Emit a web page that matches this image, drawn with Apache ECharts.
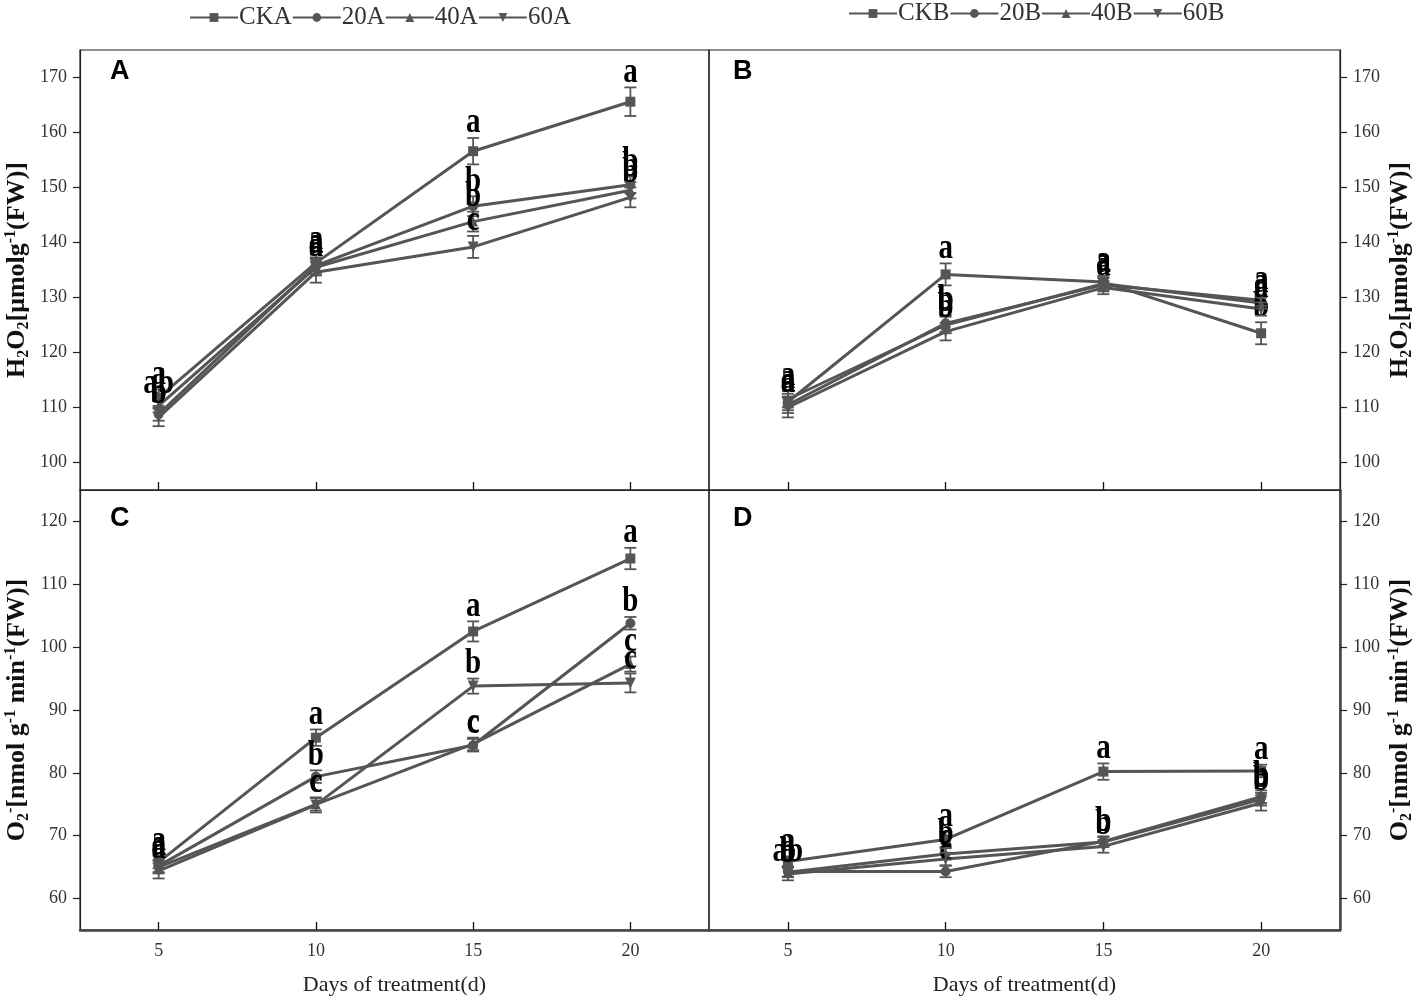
<!DOCTYPE html>
<html>
<head>
<meta charset="utf-8">
<title>H2O2 / O2- chart</title>
<script src="https://cdn.jsdelivr.net/npm/echarts@6/dist/echarts.min.js"></script>
<style>
    html, body { margin: 0; padding: 0; background: #fff; }
    #chart { width: 1417px; height: 997px; }
</style>
</head>
<body>
<div id="chart"></div>
<script>
// 数据 begin
const days = [5, 10, 15, 20];
const xTicks = [5, 10, 15, 20];
const h2o2Ticks = [100, 110, 120, 130, 140, 150, 160, 170];
const o2Ticks = [60, 70, 80, 90, 100, 110, 120];

const namesA = ['CKA', '20A', '40A', '60A'];
const namesB = ['CKB', '20B', '40B', '60B'];

// A: H2O2, A组
const h2o2CKA = [111.8, 136.3, 156.6, 165.6];
const h2o2A20 = [108.8, 135.8, 146.6, 150.5];
const h2o2A40 = [110.3, 135.5, 143.8, 149.5];
const h2o2A60 = [108.2, 134.6, 139.2, 148.2];
const h2o2CKAErr = [1.5, 1.5, 2.4, 2.6];
const h2o2A20Err = [1.2, 1.5, 1.8, 1.5];
const h2o2A40Err = [1.2, 1.5, 1.8, 1.5];
const h2o2A60Err = [1.6, 1.9, 2.0, 1.8];
const h2o2CKAMark = ['a', 'a', 'a', 'a'];
const h2o2A20Mark = ['b', 'a', 'b', 'b'];
const h2o2A40Mark = ['ab', 'a', 'b', 'b'];
const h2o2A60Mark = ['b', 'a', 'c', 'b'];

// B: H2O2, B组
const h2o2CKB = [111.0, 134.2, 132.8, 123.5];
const h2o2B20 = [110.5, 125.3, 132.3, 129.5];
const h2o2B40 = [111.5, 125.0, 132.5, 129.0];
const h2o2B60 = [110.0, 123.8, 131.8, 127.9];
const h2o2CKBErr = [1.5, 2.0, 1.2, 2.0];
const h2o2B20Err = [1.5, 1.5, 1.2, 1.0];
const h2o2B40Err = [1.5, 1.5, 1.2, 1.0];
const h2o2B60Err = [1.8, 1.6, 1.2, 1.2];
const h2o2CKBMark = ['a', 'a', 'a', 'b'];
const h2o2B20Mark = ['a', 'b', 'a', 'a'];
const h2o2B40Mark = ['a', 'b', 'a', 'a'];
const h2o2B60Mark = ['a', 'b', 'a', 'a'];

// C: O2-, A组
const o2CKA = [65.8, 85.6, 102.5, 114.1];
const o2A20 = [65.2, 79.4, 84.4, 103.8];
const o2A40 = [65.0, 75.0, 84.6, 97.3];
const o2A60 = [64.4, 74.9, 93.8, 94.3];
const o2CKAErr = [1.0, 1.3, 1.6, 1.7];
const o2A20Err = [1.0, 1.0, 1.0, 1.0];
const o2A40Err = [1.0, 1.0, 1.0, 1.2];
const o2A60Err = [1.2, 1.2, 1.2, 1.5];
const o2CKAMark = ['a', 'a', 'a', 'a'];
const o2A20Mark = ['a', 'b', 'c', 'b'];
const o2A40Mark = ['a', 'c', 'c', 'c'];
const o2A60Mark = ['a', 'c', 'b', 'c'];

// D: O2-, B组
const o2CKB = [65.9, 69.4, 80.2, 80.3];
const o2B20 = [64.3, 64.3, 69.1, 76.2];
const o2B40 = [64.2, 67.1, 69.0, 75.8];
const o2B60 = [63.9, 66.3, 68.3, 75.2];
const o2CKBErr = [0.8, 1.2, 1.3, 1.0];
const o2B20Err = [0.8, 0.9, 0.8, 1.0];
const o2B40Err = [0.8, 0.9, 0.8, 1.0];
const o2B60Err = [1.0, 1.0, 1.0, 1.2];
const o2CKBMark = ['a', 'a', 'a', 'a'];
const o2B20Mark = ['ab', 'c', 'b', 'b'];
const o2B40Mark = ['b', 'b', 'b', 'b'];
const o2B60Mark = ['b', 'c', 'b', 'b'];
// end

const LINE_COLOR = '#555555';
const SERIF = '"Liberation Serif", "Times New Roman", serif';
const symbols = ['rect', 'circle', 'triangle', 'path://M0,0L10,0L5,10Z'];

const panels = [
    { names: namesA, vals: [h2o2CKA, h2o2A20, h2o2A40, h2o2A60],
      errs: [h2o2CKAErr, h2o2A20Err, h2o2A40Err, h2o2A60Err],
      marks: [h2o2CKAMark, h2o2A20Mark, h2o2A40Mark, h2o2A60Mark] },
    { names: namesB, vals: [h2o2CKB, h2o2B20, h2o2B40, h2o2B60],
      errs: [h2o2CKBErr, h2o2B20Err, h2o2B40Err, h2o2B60Err],
      marks: [h2o2CKBMark, h2o2B20Mark, h2o2B40Mark, h2o2B60Mark] },
    { names: namesA, vals: [o2CKA, o2A20, o2A40, o2A60],
      errs: [o2CKAErr, o2A20Err, o2A40Err, o2A60Err],
      marks: [o2CKAMark, o2A20Mark, o2A40Mark, o2A60Mark] },
    { names: namesB, vals: [o2CKB, o2B20, o2B40, o2B60],
      errs: [o2CKBErr, o2B20Err, o2B40Err, o2B60Err],
      marks: [o2CKBMark, o2B20Mark, o2B40Mark, o2B60Mark] }
];

const grids = [
    { left: 80, top: 50, width: 629, height: 440 },
    { left: 709, top: 50, width: 631, height: 440 },
    { left: 80, top: 490, width: 629, height: 440 },
    { left: 709, top: 490, width: 631, height: 440 }
];

// 轴名称（上下标用rich）
const nameRich = {
    b: { fontFamily: SERIF, fontSize: 26, fontWeight: 'bold', color: '#111' },
    s: { fontFamily: SERIF, fontSize: 16, fontWeight: 'bold', color: '#111', padding: [13, 0, 0, 0] },
    p: { fontFamily: SERIF, fontSize: 16, fontWeight: 'bold', color: '#111', padding: [0, 0, 13, 0] }
};
const h2o2Name = '{b|H}{s|2}{b|O}{s|2}{b|[μmolg}{p|-1}{b|(FW)]}';
const o2Name = '{b|O}{s|2}{p|-}{b|[nmol g}{p|-1}{b| min}{p|-1}{b|(FW)]}';

/**
 * 误差线 + 显著性字母
 * @param {string[]} marks 每个点上的字母
 */
function makeErrorRender(marks) {
    return function (params, api) {
        const x = api.value(0), y = api.value(1), e = api.value(2);
        const top = api.coord([x, y + e]);
        const bot = api.coord([x, y - e]);
        const cap = 6;
        const ls = { stroke: LINE_COLOR, lineWidth: 1.8 };
        return {
            type: 'group',
            children: [
                { type: 'line', shape: { x1: top[0], y1: top[1], x2: bot[0], y2: bot[1] }, style: ls },
                { type: 'line', shape: { x1: top[0] - cap, y1: top[1], x2: top[0] + cap, y2: top[1] }, style: ls },
                { type: 'line', shape: { x1: bot[0] - cap, y1: bot[1], x2: bot[0] + cap, y2: bot[1] }, style: ls },
                {
                    type: 'text', x: top[0], y: top[1] + 3, scaleY: 1.25,
                    style: {
                        text: marks[params.dataIndex], fill: '#000',
                        fontFamily: SERIF, fontSize: 29, fontWeight: 'bold',
                        align: 'center', verticalAlign: 'bottom'
                    }
                }
            ]
        };
    };
}

let xAxes = [], yAxes = [], series = [];
panels.forEach((p, gi) => {
    const isBottom = gi >= 2;
    const isRight = gi % 2 === 1;
    const thick = { color: '#444', width: 2.5 };
    const thin = { color: '#222', width: 1.2 };
    xAxes.push({
        type: 'value', gridIndex: gi, min: 2.5, max: 22.5,
        axisLine: { show: true, onZero: false, lineStyle: isBottom ? thick : thin },
        axisTick: { show: true, inside: true, length: 8, customValues: xTicks, lineStyle: { color: '#111', width: 1.3 } },
        axisLabel: { show: isBottom, customValues: xTicks, margin: 12, fontFamily: SERIF, fontSize: 18, color: '#333' },
        splitLine: { show: false },
        name: isBottom ? 'Days of treatment(d)' : '',
        nameLocation: 'middle', nameGap: 44,
        nameTextStyle: { fontFamily: SERIF, fontSize: 22, color: '#222' }
    });
    yAxes.push({
        type: 'value', gridIndex: gi,
        min: gi < 2 ? 95 : 55, max: gi < 2 ? 175 : 125,
        position: isRight ? 'right' : 'left',
        axisLine: { show: true, onZero: false, lineStyle: (isRight && isBottom) ? thick : thin },
        axisTick: { show: true, length: 7, customValues: gi < 2 ? h2o2Ticks : o2Ticks, lineStyle: { color: '#222', width: 1.2 } },
        axisLabel: { customValues: gi < 2 ? h2o2Ticks : o2Ticks, margin: 13, fontFamily: SERIF, fontSize: 18, color: '#333' },
        splitLine: { show: false },
        name: gi < 2 ? h2o2Name : o2Name,
        nameLocation: 'middle', nameRotate: 90, nameGap: isRight ? 46 : 48,
        nameTextStyle: { rich: nameRich }
    });
    p.names.forEach((nm, k) => {
        series.push({
            name: nm, type: 'line', xAxisIndex: gi, yAxisIndex: gi,
            data: days.map((d, i) => [d, p.vals[k][i]]),
            symbol: symbols[k], symbolSize: k === 3 ? 11 : 10,
            lineStyle: { color: LINE_COLOR, width: 3 },
            itemStyle: { color: LINE_COLOR },
            z: 3, animation: false
        });
        series.push({
            type: 'custom', xAxisIndex: gi, yAxisIndex: gi,
            data: days.map((d, i) => [d, p.vals[k][i], p.errs[k][i]]),
            renderItem: makeErrorRender(p.marks[k]),
            z: 4, silent: true, animation: false
        });
    });
});

const legendCommon = {
    orient: 'horizontal', itemWidth: 48, itemHeight: 11, itemGap: 0,
    textStyle: { fontFamily: SERIF, fontSize: 25, color: '#333', padding: [0, 0, 0, -4] },
    selectedMode: false
};

const chart = echarts.init(document.getElementById('chart'));
chart.setOption({
    backgroundColor: '#fff',
    animation: false,
    legend: [
        Object.assign({ data: namesA, left: 184, top: 0 }, legendCommon),
        Object.assign({ data: namesB, left: 843, top: -4 }, legendCommon)
    ],
    grid: grids.map(g => Object.assign({
        show: true, borderColor: '#222', borderWidth: 1.2,
        containLabel: false, outerBoundsMode: 'none'
    }, g)),
    xAxis: xAxes,
    yAxis: yAxes,
    graphic: [
        { type: 'text', left: 110, top: 58, style: { text: 'A', font: 'bold 27px "Liberation Sans", Arial', fill: '#000' } },
        { type: 'text', left: 733, top: 58, style: { text: 'B', font: 'bold 27px "Liberation Sans", Arial', fill: '#000' } },
        { type: 'text', left: 110, top: 505, style: { text: 'C', font: 'bold 27px "Liberation Sans", Arial', fill: '#000' } },
        { type: 'text', left: 733, top: 505, style: { text: 'D', font: 'bold 27px "Liberation Sans", Arial', fill: '#000' } }
    ],
    series: series
});

window.onresize = function () { chart.resize(); };
</script>
</body>
</html>
